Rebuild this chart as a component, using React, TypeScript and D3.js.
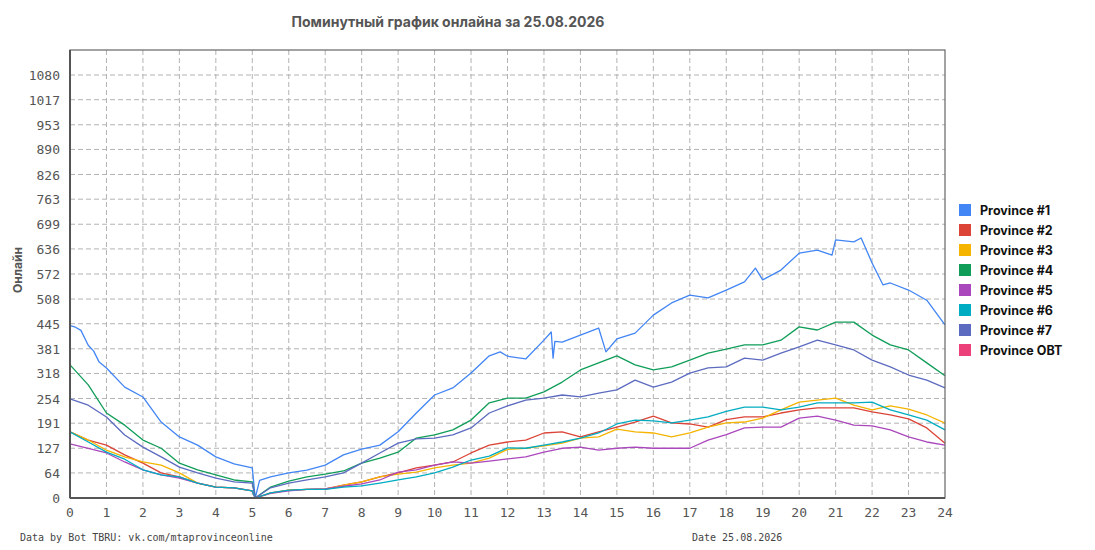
import React, { useEffect, useRef } from 'react';
import * as d3 from 'd3';

// shared time axis (hours) for the lower series
const HOURS = [
  0, 0.5, 1, 1.5, 2, 2.5, 3, 3.5, 4, 4.5,
  5, 5.08, 5.5, 6, 6.5, 7, 7.5, 8, 8.5, 9,
  9.5, 10, 10.5, 11, 11.5, 12, 12.5, 13, 13.5, 14,
  14.5, 15, 15.5, 16, 16.5, 17, 17.5, 18, 18.5, 19,
  19.5, 20, 20.5, 21, 21.5, 22, 22.5, 23, 23.5, 24,
];

// Province #1 has a few sharp features, so it gets its own time points
const P1_HOURS = [
  0, 0.15, 0.3, 0.5, 0.65, 0.8, 1, 1.5, 2, 2.5,
  3, 3.5, 4, 4.5, 5, 5.08, 5.2, 5.5, 6, 6.5,
  7, 7.5, 8, 8.5, 9, 9.5, 10, 10.5, 11, 11.5,
  11.8, 12, 12.5, 13, 13.2, 13.25, 13.3, 13.5, 14, 14.5,
  14.7, 15, 15.5, 16, 16.5, 17, 17.5, 18, 18.5, 18.8,
  19, 19.5, 20, 20.5, 20.9, 21, 21.5, 21.7, 22, 22.3,
  22.5, 23, 23.5, 24,
];
const P1 = [
  440, 436, 428, 390, 375, 347, 332, 283, 258, 194,
  156, 135, 105, 87, 77, 0, 45, 54, 64, 71,
  84, 110, 125, 135, 169, 217, 263, 281, 319, 363,
  373, 362, 355, 403, 424, 357, 400, 398, 416, 434,
  373, 406, 421, 467, 498, 518, 511, 531, 552, 587,
  557, 582, 625, 633, 620, 659, 654, 664, 600, 544,
  549, 531, 505, 442,
];

const P2 = [
  169, 148, 135, 110, 89, 64, 54, 38, 28, 26,
  18, 0, 13, 20, 22, 23, 33, 41, 54, 64,
  77, 84, 92, 115, 135, 143, 148, 166, 169, 156,
  169, 181, 194, 209, 192, 189, 181, 200, 207, 207,
  217, 225, 230, 230, 230, 220, 212, 202, 179, 140,
];
const P3 = [
  169, 148, 122, 105, 92, 84, 64, 38, 28, 26,
  18, 0, 12, 20, 22, 22, 33, 41, 54, 61,
  66, 77, 84, 89, 102, 124, 127, 133, 140, 153,
  156, 176, 169, 166, 156, 166, 181, 192, 194, 204,
  225, 245, 250, 255, 237, 225, 235, 227, 212, 191,
];
const P4 = [
  340, 289, 217, 186, 148, 127, 89, 72, 59, 46,
  41, 0, 28, 43, 54, 61, 69, 89, 102, 117,
  153, 161, 174, 199, 243, 255, 255, 271, 296, 327,
  345, 363, 340, 327, 335, 352, 370, 380, 391, 391,
  403, 437, 429, 449, 449, 416, 391, 378, 345, 312,
];
const P5 = [
  138, 127, 115, 92, 72, 59, 51, 38, 28, 26,
  18, 0, 12, 18, 22, 23, 30, 36, 46, 66,
  72, 84, 92, 89, 94, 100, 105, 117, 127, 130,
  122, 127, 130, 127, 127, 127, 148, 162, 179, 181,
  181, 204, 209, 199, 186, 184, 174, 156, 143, 135,
];
const P6 = [
  169, 143, 117, 99, 72, 59, 54, 38, 28, 26,
  18, 0, 13, 20, 22, 22, 28, 31, 38, 46,
  54, 64, 79, 97, 107, 128, 127, 135, 143, 153,
  166, 189, 199, 197, 192, 199, 207, 221, 232, 232,
  225, 232, 243, 243, 243, 245, 225, 212, 199, 174,
];
const P7 = [
  253, 237, 207, 161, 130, 105, 79, 64, 51, 41,
  38, 0, 26, 38, 46, 54, 64, 89, 115, 140,
  151, 153, 161, 179, 217, 235, 250, 255, 263, 258,
  268, 276, 301, 283, 296, 319, 332, 335, 357, 352,
  370, 386, 403, 391, 378, 352, 335, 314, 301, 281,
];
const POBT: number[] = [];

const SERIES_NAMES = [
  'Province #1', 'Province #2', 'Province #3', 'Province #4',
  'Province #5', 'Province #6', 'Province #7', 'Province OBT',
];
const SERIES_COLORS = [
  '#4285f4', '#db4437', '#f4b400', '#0f9d58',
  '#ab47bc', '#00acc1', '#5c6bc0', '#ec407a',
];

const Y_TICKS = [0, 64, 127, 191, 254, 318, 381, 445, 508, 572, 636, 699, 763, 826, 890, 953, 1017, 1080];
const X_TICKS = d3.range(0, 25);

const TITLE = 'Поминутный график онлайна за 25.08.2026';

const App: React.FC = () => {
  const svgRef = useRef<SVGSVGElement>(null);
  const width = 1095;
  const height = 550;

  useEffect(() => {
    if (!svgRef.current) return;
    const svg = d3.select(svgRef.current);
    svg.selectAll('*').remove();

    const margin = { top: 50, right: 150, bottom: 52, left: 70 };
    const innerWidth = width - margin.left - margin.right;
    const innerHeight = height - margin.top - margin.bottom;

    const x = d3.scaleLinear().domain([0, 24]).range([0, innerWidth]);
    const y = d3.scaleLinear().domain([0, 1143.9]).range([innerHeight, 0]);

    const g = svg.append('g').attr('transform', `translate(${margin.left},${margin.top})`);
    const mono = '"DejaVu Sans Mono", monospace';

    // grid
    g.append('g')
      .selectAll('line')
      .data(Y_TICKS.filter(d => d > 0))
      .join('line')
      .attr('x1', 0)
      .attr('x2', innerWidth)
      .attr('y1', d => y(d))
      .attr('y2', d => y(d))
      .attr('stroke', '#b3b3b3')
      .attr('stroke-dasharray', '5,3');

    g.append('g')
      .selectAll('line')
      .data(X_TICKS.filter(d => d > 0 && d < 24))
      .join('line')
      .attr('x1', d => x(d))
      .attr('x2', d => x(d))
      .attr('y1', 0)
      .attr('y2', innerHeight)
      .attr('stroke', '#b3b3b3')
      .attr('stroke-dasharray', '5,3');

    // series
    const data = [
      P1_HOURS.map((h, i) => [h, P1[i]] as [number, number]),
      ...[P2, P3, P4, P5, P6, P7, POBT].map(vals =>
        vals.map((v, i) => [HOURS[i], v] as [number, number])),
    ];
    const line = d3.line<[number, number]>()
      .x(d => x(d[0]))
      .y(d => y(d[1]));

    data.forEach((pts, i) => {
      if (!pts.length) return;
      g.append('path')
        .datum(pts)
        .attr('d', line)
        .attr('fill', 'none')
        .attr('stroke', SERIES_COLORS[i])
        .attr('stroke-width', 1.3)
        .attr('stroke-linejoin', 'round');
    });

    // frame
    g.append('rect')
      .attr('x', 0)
      .attr('y', 0)
      .attr('width', innerWidth)
      .attr('height', innerHeight)
      .attr('fill', 'none')
      .attr('stroke', '#666')
      .attr('stroke-width', 1.2);
    g.append('line')
      .attr('x1', 0).attr('x2', 0)
      .attr('y1', 0).attr('y2', innerHeight)
      .attr('stroke', '#555').attr('stroke-width', 2);
    g.append('line')
      .attr('x1', 0).attr('x2', innerWidth)
      .attr('y1', innerHeight).attr('y2', innerHeight)
      .attr('stroke', '#555').attr('stroke-width', 2);

    // axis labels
    g.append('g')
      .selectAll('text')
      .data(Y_TICKS)
      .join('text')
      .attr('x', -10)
      .attr('y', d => y(d) + 5)
      .attr('text-anchor', 'end')
      .style('font-family', mono)
      .style('font-size', '13px')
      .style('fill', '#555')
      .text(d => d);

    g.append('g')
      .selectAll('text')
      .data(X_TICKS)
      .join('text')
      .attr('x', d => x(d))
      .attr('y', innerHeight + 19)
      .attr('text-anchor', 'middle')
      .style('font-family', mono)
      .style('font-size', '13px')
      .style('fill', '#555')
      .text(d => d);

    g.append('text')
      .attr('transform', 'rotate(-90)')
      .attr('x', -(270 - margin.top))
      .attr('y', 22 - margin.left)
      .attr('text-anchor', 'middle')
      .style('font-family', 'Inter, sans-serif')
      .style('font-weight', 'bold')
      .style('font-size', '12px')
      .style('fill', '#555')
      .text('Онлайн');

    // title
    svg.append('text')
      .attr('x', 448)
      .attr('y', 27)
      .attr('text-anchor', 'middle')
      .style('font-family', 'Inter, sans-serif')
      .style('font-weight', 'bold')
      .style('font-size', '14px')
      .style('fill', '#555')
      .text(TITLE);

    // footer
    svg.append('text')
      .attr('x', 20)
      .attr('y', 541)
      .style('font-family', mono)
      .style('font-size', '10px')
      .style('fill', '#444')
      .text('Data by Bot TBRU: vk.com/mtaprovinceonline');
    svg.append('text')
      .attr('x', 692)
      .attr('y', 541)
      .style('font-family', mono)
      .style('font-size', '10px')
      .style('fill', '#444')
      .text('Date 25.08.2026');

    // legend
    const legend = svg.append('g').attr('transform', 'translate(959,204)');
    SERIES_NAMES.forEach((name, i) => {
      const row = legend.append('g').attr('transform', `translate(0,${i * 20})`);
      row.append('rect')
        .attr('width', 12)
        .attr('height', 12)
        .attr('fill', SERIES_COLORS[i]);
      row.append('text')
        .attr('x', 21)
        .attr('y', 11)
        .style('font-family', 'Inter, sans-serif')
        .style('font-weight', 'bold')
        .style('font-size', '12.5px')
        .style('fill', '#111')
        .text(name);
    });
  }, []);

  return (
    <svg
      ref={svgRef}
      width={width}
      height={height}
      style={{ position: 'absolute', left: 0, top: 0, background: '#fff' }}
    />
  );
};

export default App;
